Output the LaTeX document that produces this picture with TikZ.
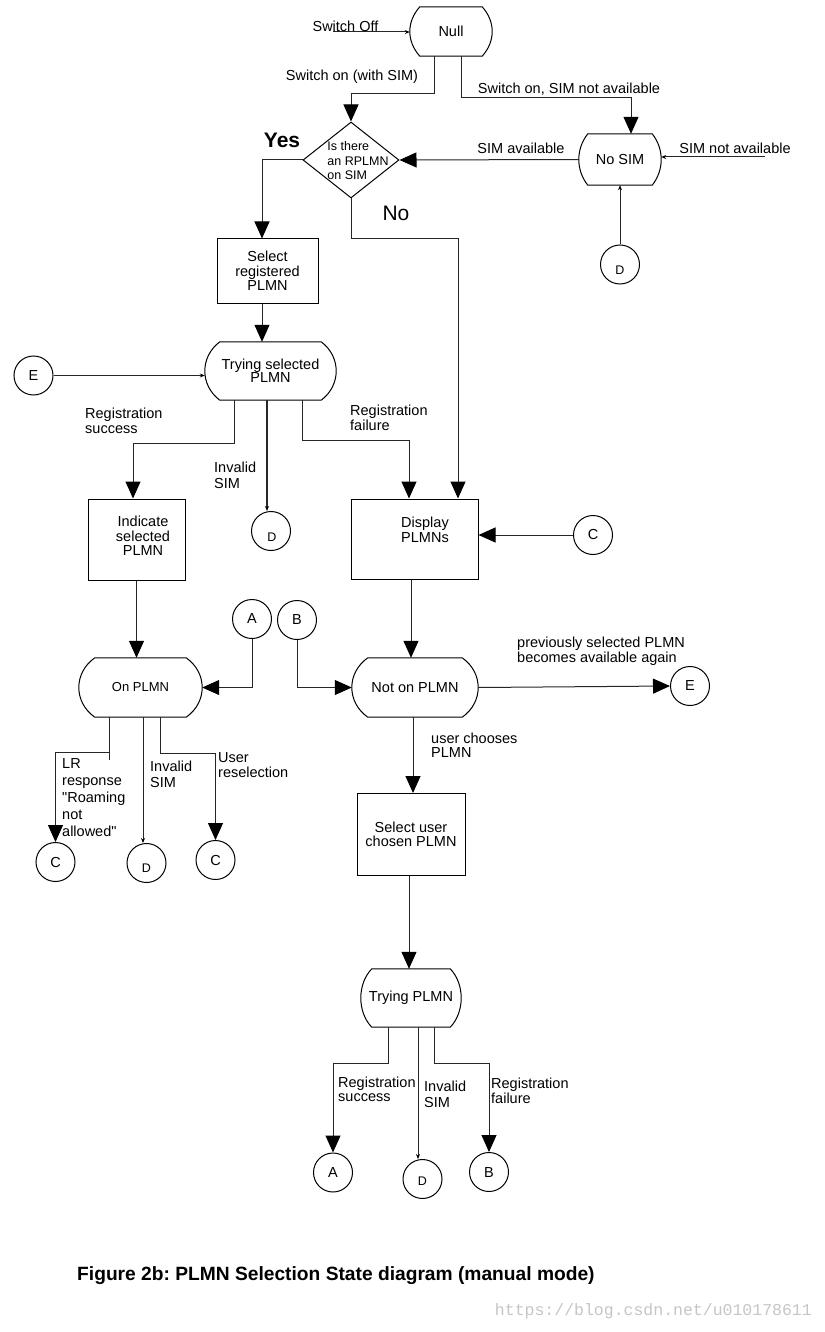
\documentclass[tikz,border=0pt]{standalone}
\usepackage{fontspec}
\setmainfont{Liberation Sans}[Ligatures=TeXOff]
\newfontfamily\wmfont{Liberation Mono}
\usetikzlibrary{arrows.meta,shapes.geometric}
\frenchspacing
\newcommand\stateshape[2]{%
  \draw[line width=1pt] ([xshift=#2]#1.north west) -- ([xshift=-#2]#1.north east)
   .. controls ([xshift=#2/3, yshift=-15]#1.north east) and ([xshift=#2/3, yshift=15]#1.south east) .. ([xshift=-#2]#1.south east)
   -- ([xshift=#2]#1.south west)
   .. controls ([xshift=-#2/3, yshift=15]#1.south west) and ([xshift=-#2/3, yshift=-15]#1.north west) .. cycle;}
\begin{document}
\begin{tikzpicture}[x=1pt,y=-1pt,
  every node/.style={font=\fontsize{14.5}{14.5}\selectfont, inner sep=0pt},
  state/.style={rectangle, inner sep=0pt, align=center},
  box/.style={rectangle, draw, line width=1pt, inner sep=0pt, align=center},
  circ/.style={circle, draw, line width=1pt, minimum size=39pt, inner sep=0pt},
  conn/.style={line width=1pt, draw=black!85},
  big/.style={conn, -{Triangle[width=15pt,length=17pt,color=black]}},
  small/.style={conn, -{Stealth[length=5pt,width=4pt,color=black]}},
  lbl/.style={anchor=west, align=left, font=\fontsize{14.5}{14.5}\selectfont},
  dlab/.style={font=\fontsize{12.5}{12.5}\selectfont},
]
\fill[white] (0,0) rectangle (824,1332);
\useasboundingbox (0,0) rectangle (824,1332);

% states
\node[state, minimum width=82pt, minimum height=49pt] (null) at (451,31.5) {Null};
\node[state, minimum width=82pt, minimum height=51pt] (nosim) at (620,159.5) {No SIM};
\node[state, minimum width=131pt, minimum height=58pt, font=\fontsize{14.5}{13}\selectfont] (trysel) at (270.5,371) {Trying selected\\PLMN};
\node[state, minimum width=123pt, minimum height=59pt, font=\fontsize{13}{13}\selectfont] (onplmn) at (140.5,687.5) {On PLMN};
\node[state, minimum width=126pt, minimum height=59pt] (notonplmn) at (415,687.5) {Not on PLMN};
\node[state, minimum width=100pt, minimum height=58pt] (trying) at (411,998) {Trying PLMN};
\stateshape{null}{10}
\stateshape{nosim}{9}
\stateshape{trysel}{15}
\stateshape{onplmn}{16}
\stateshape{notonplmn}{16}
\stateshape{trying}{11}

% decision
\node[diamond, draw, line width=1pt, minimum width=96pt, minimum height=76pt, inner sep=0pt] (dia) at (351,160) {};
\node[align=left, font=\fontsize{12.5}{14.5}\selectfont] (diat) at (358,161) {Is there\\an RPLMN\\on SIM};

% boxes
\node[box, minimum width=101pt, minimum height=64pt] (selreg) at (267.5,271) {Select\\registered\\PLMN};
\node[box, minimum width=97pt, minimum height=81pt] (indic) at (136.5,539.5) {};
\node[align=center] (indict) at (143,536) {Indicate\\selected\\PLMN};
\node[box, minimum width=127pt, minimum height=80pt] (disp) at (414.5,539) {};
\node[align=center] (dispt) at (425,530) {Display\\PLMNs};
\node[box, minimum width=108pt, minimum height=82pt] (seluser) at (411,834.5) {Select user\\chosen PLMN};

% connector circles
\node[circ] (e1) at (33.5,375.5) {E};
\node[circ] (dns) at (620,264.5) {};
\node[dlab] (dnst) at (620,270) {D};
\node[circ] (d1) at (271,531) {};
\node[dlab] (d1t) at (272,537) {D};
\node[circ] (c1) at (593,535) {C};
\node[circ] (a1) at (252,619) {A};
\node[circ] (b1) at (297,620) {B};
\node[circ] (e2) at (690,686) {E};
\node[circ] (c2) at (55.5,862) {C};
\node[circ] (d2) at (146.5,863) {};
\node[dlab] (d2t) at (146.5,868) {D};
\node[circ] (c3) at (215.5,860) {C};
\node[circ] (a2) at (333,1172.5) {A};
\node[circ] (d3) at (422.5,1179) {};
\node[dlab] (d3t) at (422.5,1181) {D};
\node[circ] (b2) at (489,1172) {B};

% connectors
\coordinate (swoff) at (333,32);
\draw[small] (swoff) -- (swoff -| null.west);
\draw[big] ([xshift=-17]null.south) -- ++(0,37) -| (dia.north);
\draw[big] ([xshift=10]null.south) -- ++(0,41) -| ([xshift=11]nosim.north);
\draw[big] (nosim.west) -- (dia.east);
\coordinate (sna) at (765,157);
\draw[small] (sna) -- (sna -| nosim.east);
\draw[small] (dns.north) -- (nosim.south);
\draw[big] (dia.west) -| ([xshift=-5.5]selreg.north);
\draw[big] (dia.south) -- ++(0,40) -| ([xshift=43.5]disp.north);
\draw[big] ([xshift=-5.5]selreg.south) -- ([xshift=-8.5]trysel.north);
\draw[small] (e1.east) -- (e1.east -| trysel.west);
\draw[big] ([xshift=-36.5]trysel.south) -- ++(0,43) -| ([xshift=-3.5]indic.north);
\draw[small, line width=2pt] ([xshift=-3.5]trysel.south) -- ([xshift=-4]d1.north);
\draw[big] ([xshift=31.5]trysel.south) -- ++(0,40) -| ([xshift=-5.5]disp.north);
\draw[big] (c1.west) -- (c1.west -| disp.east);
\draw[big] (indic.south) -- ([xshift=-4]onplmn.north);
\draw[big] (a1.south) |- (onplmn.east);
\draw[big] (b1.south) |- (notonplmn.west);
\draw[big] ([xshift=-3.5]disp.south) -- ([xshift=-4]notonplmn.north);
\draw[big] (notonplmn.east) -- (e2.west);
\draw[conn] ([xshift=-31.5]onplmn.south) -- ++(0,43);
\draw[big] ([xshift=-31.5]onplmn.south) -- ++(0,35) -| (c2.north);
\draw[small] ([xshift=2.5]onplmn.south) -- ([xshift=-3.5]d2.north);
\draw[big] ([xshift=19.5]onplmn.south) -- ++(0,36) -| (c3.north);
\draw[big] ([xshift=-2]notonplmn.south) -- ([xshift=2]seluser.north);
\draw[big] ([xshift=-2]seluser.south) -- ([xshift=-2]trying.north);
\draw[big] ([xshift=-23]trying.south) -- ++(0,36) -| (a2.north);
\draw[small] ([xshift=7]trying.south) -- ([xshift=-4.5]d3.north);
\draw[big] ([xshift=23]trying.south) -- ++(0,36) -| (b2.north);

% labels
\node (l1) at (345.5,26.5) {Switch Off};
\node (l2) at (352,77) {Switch on (with SIM)};
\node (l3) at (569,89) {Switch on, SIM not available};
\node (l4) at (521,148) {SIM available};
\node (l5) at (735,148) {SIM not available};
\node[font=\fontsize{21}{21}\bfseries\selectfont] (l6) at (282,140) {Yes};
\node[font=\fontsize{21}{21}\selectfont] (l7) at (396,213) {No};
\node[lbl] (l8) at (85,421) {Registration\\success};
\node[lbl, font=\fontsize{14.5}{16}\selectfont] (l9) at (214,475) {Invalid\\SIM};
\node[lbl] (l10) at (350,418) {Registration\\failure};
\node[lbl] (l11) at (517,651) {previously selected PLMN\\becomes available again};
\node[lbl, font=\fontsize{14.5}{17}\selectfont] (l12) at (62,797.5) {LR\\response\\"Roaming\\not\\allowed"};
\node[lbl, font=\fontsize{14.5}{16}\selectfont] (l13) at (150,774) {Invalid\\SIM};
\node[lbl, font=\fontsize{14.5}{15}\selectfont] (l14) at (218,765.5) {User\\reselection};
\node[lbl] (l15) at (431,745) {user chooses\\PLMN};
\node[lbl] (l16) at (338,1089.5) {Registration\\success};
\node[lbl, font=\fontsize{14.5}{16}\selectfont] (l17) at (424,1094) {Invalid\\SIM};
\node[lbl] (l18) at (491,1091) {Registration\\failure};

% caption and watermark
\node[anchor=west, font=\fontsize{19.2}{19}\bfseries\selectfont] (cap) at (77,1276) {Figure 2b: PLMN Selection State diagram (manual mode)};
\node[anchor=east, font=\wmfont\fontsize{16.5}{16.5}\selectfont, text=gray!45] (wm) at (812,1311) {https://blog.csdn.net/u010178611};
\end{tikzpicture}
\end{document}
